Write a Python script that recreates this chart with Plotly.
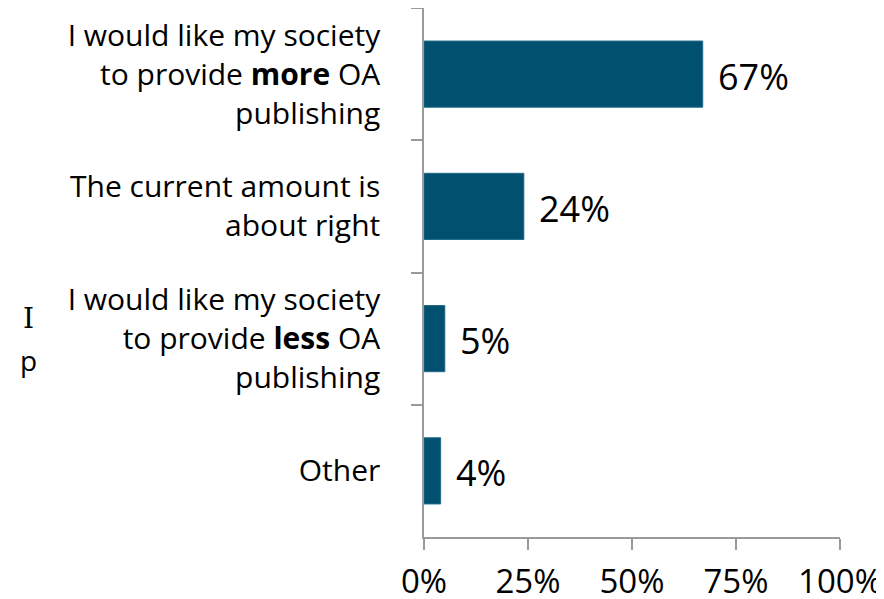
import plotly.graph_objects as go

categories = [
    "I would like my society<br>to provide <b>more</b> OA<br>publishing",
    "The current amount is<br>about right",
    "I would like my society<br>to provide <b>less</b> OA<br>publishing",
    "Other",
]
values = [67, 24, 5, 4]
value_labels = ["67%", "24%", "5%", "4%"]
x_ticks = [0, 25, 50, 75, 100]
x_tick_labels = ["0%", "25%", "50%", "75%", "100%"]

BAR = "#01506F"
AXIS = "#9A9A9A"
FONT = "Open Sans"

# page body has an 8px margin, so the figure is placed 8px in from the window
OFF = 8
W, H = 884 - OFF, 599 - OFF
L = 424 - OFF
T = 8 - OFF
PR = 840.5 - OFF      # plot right in figure px
PB = 537 - OFF        # plot bottom in figure px
R = W - PR
B = H - PB
PW, PH = PR - L, PB - T


def px_to_paper(x, y):
    # x, y are window pixels
    return (x - OFF - L) / PW, (PB - (y - OFF)) / PH


fig = go.Figure()
fig.add_trace(go.Bar(
    x=values, y=categories, orientation="h", width=0.5,
    marker=dict(color=BAR, line=dict(color="#1F6A88", width=1)),
    hoverinfo="skip", cliponaxis=False,
))

for v, c, t in zip(values, categories, value_labels):
    fig.add_annotation(x=v, y=c, text=t, showarrow=False, xanchor="left",
                       yanchor="middle", xshift=13, yshift=-2,
                       font=dict(family=FONT, size=36, color="#000"))

# stray clipped label fragments visible at the left edge of the reference
for txt, (px, py), fam in [("I", (28, 318), "DejaVu Serif"), ("p", (28, 360), FONT)]:
    ax, ay = px_to_paper(px, py)
    fig.add_annotation(x=ax, y=ay, xref="paper", yref="paper", text=txt,
                       showarrow=False, xanchor="center", yanchor="middle",
                       font=dict(family=fam, size=28, color="#000"))

fig.update_layout(
    width=W, height=H,
    margin=dict(l=L, r=R, t=T, b=B, pad=0, autoexpand=False),
    paper_bgcolor="white", plot_bgcolor="white",
    showlegend=False,
    font=dict(family=FONT, color="#000"),
    xaxis=dict(range=[0, 100], tickvals=x_ticks, ticktext=x_tick_labels,
               showgrid=False, zeroline=False, showline=True, linecolor=AXIS,
               linewidth=1.5, ticks="outside", ticklen=11, tickcolor=AXIS,
               tickwidth=1.5, tickfont=dict(family=FONT, size=33),
               ticklabelstandoff=4, automargin=False),
    yaxis=dict(type="category", autorange=False, range=[3.5, -0.5],
               tickson="boundaries", showgrid=False, zeroline=False,
               showline=True, linecolor=AXIS, linewidth=1.5, ticks="outside",
               ticklen=11, tickcolor=AXIS, tickwidth=1.5,
               tickfont=dict(family=FONT, size=30), ticklabelstandoff=36,
               automargin=False),
)
fig.write_html("out.html")
